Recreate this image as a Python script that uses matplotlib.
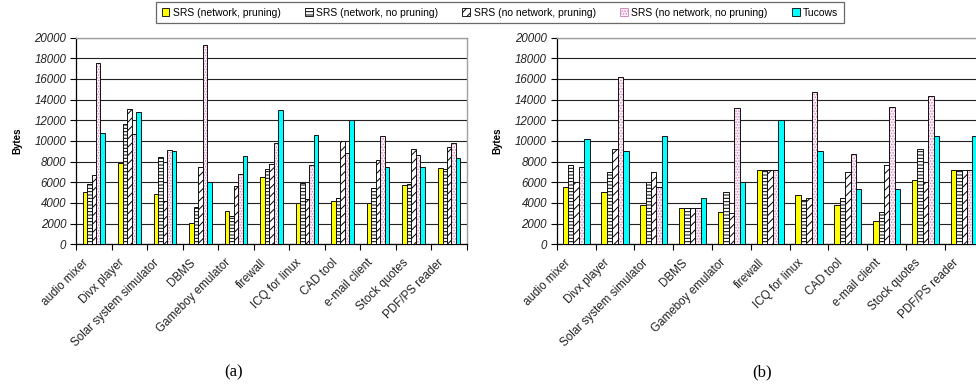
import matplotlib
matplotlib.use("Agg")
import matplotlib.pyplot as plt
from matplotlib.patches import Patch
import numpy as np

plt.rcParams['font.family'] = ['Liberation Sans', 'DejaVu Sans']
plt.rcParams['hatch.linewidth'] = 0.7

categories = ["audio mixer", "Divx player", "Solar system simulator", "DBMS",
              "Gameboy emulator", "firewall", "ICQ for linux", "CAD tool",
              "e-mail client", "Stock quotes", "PDF/PS reader"]

series_names = ["SRS (network, pruning)", "SRS (network, no pruning)",
                "SRS (no network, pruning)", "SRS (no network, no pruning)",
                "Tucows"]

# panel (a)
a_net_prune = [5100, 7900, 4900, 2100, 3200, 6500, 4000, 4200, 4000, 5700, 7400]
a_net_noprune = [5800, 11600, 8400, 3600, 2700, 7300, 5900, 4500, 5400, 5800, 7300]
a_nonet_prune = [6700, 13100, 4200, 7500, 5600, 7800, 4400, 10000, 8200, 9200, 9400]
a_nonet_noprune = [17500, 10700, 9100, 19300, 6800, 9800, 7700, 8800, 10500, 8600, 9800]
a_tucows = [10800, 12800, 9000, 6000, 8500, 13000, 10600, 12000, 7500, 7500, 8300]

# panel (b)
b_net_prune = [5500, 5100, 3800, 3500, 3100, 7200, 4800, 3800, 2300, 6200, 7200]
b_net_noprune = [7700, 7000, 6000, 3500, 5100, 7200, 4300, 4500, 3100, 9200, 7200]
b_nonet_prune = [6000, 9200, 7000, 3500, 3000, 7200, 4500, 7000, 7700, 6000, 7200]
b_nonet_noprune = [7500, 16200, 5500, 3500, 13200, 7200, 14700, 8700, 13300, 14300, 7200]
b_tucows = [10200, 9000, 10500, 4500, 6000, 12000, 9000, 5300, 5300, 10500, 10500]

y_ticks = list(range(0, 20001, 2000))

styles = [
    dict(facecolor="#ffff00", hatch=None, hatchcolor="black"),
    dict(facecolor="white", hatch="-----", hatchcolor="black"),
    dict(facecolor="white", hatch="////", hatchcolor="black"),
    dict(facecolor="#fdf0f8", hatch="......", hatchcolor="#d27fb8"),
    dict(facecolor="#00ffff", hatch=None, hatchcolor="black"),
]

W, H = 976, 389
fig = plt.figure(figsize=(W / 100, H / 100), dpi=100)


def draw_panel(ax, data, bar_w):
    x = np.arange(len(categories))
    n = len(data)
    for i, (vals, st) in enumerate(zip(data, styles)):
        pos = x + (i - (n - 1) / 2) * bar_w
        ax.bar(pos, vals, width=bar_w, color=st["facecolor"],
               edgecolor=st["hatchcolor"], hatch=st["hatch"], linewidth=0,
               zorder=3)
        ax.bar(pos, vals, width=bar_w, fill=False, edgecolor="#111111",
               linewidth=0.7, zorder=4)
    ax.set_xlim(-0.5, len(categories) - 0.5)
    ax.set_ylim(0, 20000)
    ax.set_yticks(y_ticks)
    ax.set_yticklabels([str(v) for v in y_ticks], fontsize=8.3,
                       style="italic", color="#222222")
    ax.yaxis.grid(True, color="#222222", linewidth=0.8, zorder=0)
    ax.set_axisbelow(True)
    # category boundary ticks, labels at category centres
    ax.set_xticks(np.arange(len(categories) + 1) - 0.5)
    ax.set_xticklabels([])
    ax.set_xticks(x - 0.08, minor=True)
    ax.set_xticklabels(categories, minor=True, rotation=45, ha="right",
                       va="top", fontsize=8.4, color="#222222")
    ax.tick_params(axis="x", which="minor", length=0, pad=9)
    ax.tick_params(axis="x", which="major", length=4, direction="out",
                   color="black", width=0.8)
    ax.tick_params(axis="y", length=4, direction="out", width=0.8, pad=3)
    for side in ("left", "bottom"):
        ax.spines[side].set_color("black")
        ax.spines[side].set_linewidth(0.9)
    for side in ("top", "right"):
        ax.spines[side].set_color("#a0a0a0")
        ax.spines[side].set_linewidth(1.0)
    ax.set_ylabel("Bytes", fontsize=7, fontweight="bold", labelpad=9)


bottom = 1 - 244.3 / H
height = (244.3 - 37.5) / H

ax_a = fig.add_axes([76 / W, bottom, 391 / W, height])
draw_panel(ax_a, [a_net_prune, a_net_noprune, a_nonet_prune,
                  a_nonet_noprune, a_tucows], 0.126)

ax_b = fig.add_axes([556.7 / W, bottom, 427 / W, height])
draw_panel(ax_b, [b_net_prune, b_net_noprune, b_nonet_prune,
                  b_nonet_noprune, b_tucows], 0.14)

fig.text(234 / W, 1 - 372 / H, "(a)", fontsize=12, family="Liberation Serif",
         ha="center", va="center")
fig.text(762 / W, 1 - 372 / H, "(b)", fontsize=12, family="Liberation Serif",
         ha="center", va="center")

handles = [Patch(facecolor=st["facecolor"], hatch=st["hatch"],
                 edgecolor=st["hatchcolor"] if st["hatch"] else "black",
                 linewidth=0.6)
           for st in styles]
leg = fig.legend(handles, series_names, loc="upper center", ncol=5,
                 bbox_to_anchor=(500 / W, 1 - 2 / H), fontsize=7.5,
                 frameon=True, fancybox=False, handlelength=0.75,
                 handleheight=0.75, handletextpad=0.35, columnspacing=2.3,
                 borderpad=0.55, borderaxespad=0)
leg.get_frame().set_edgecolor("#444444")
leg.get_frame().set_linewidth(0.9)

fig.savefig("out.png", dpi=100)
